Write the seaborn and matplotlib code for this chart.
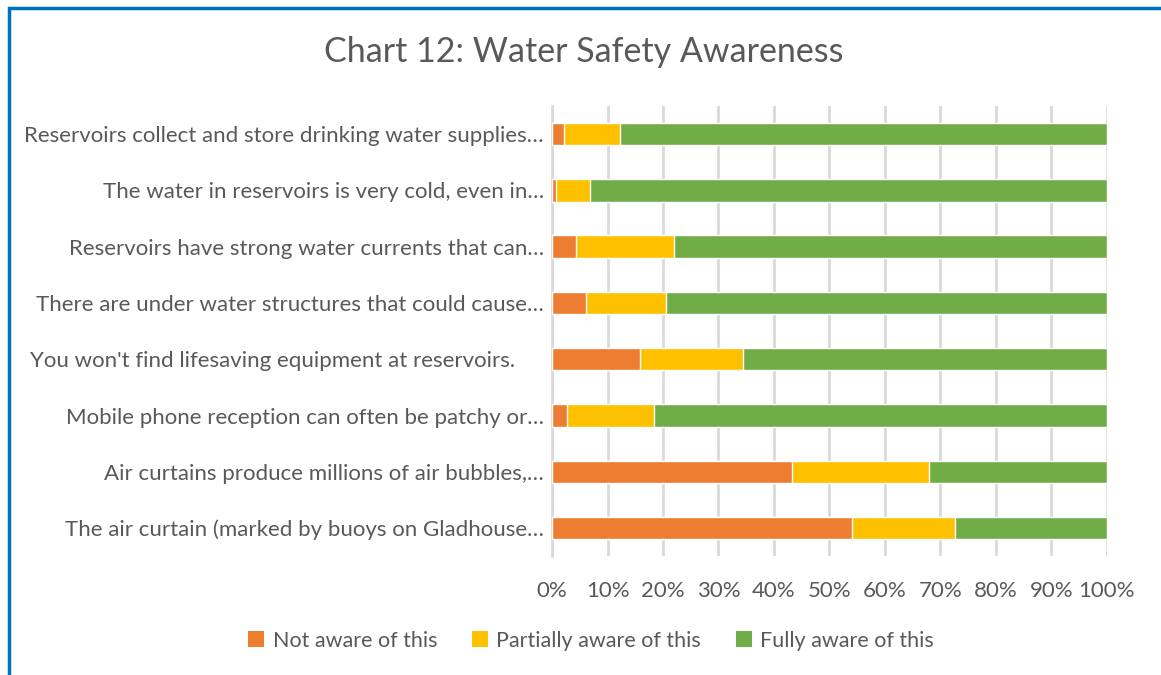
import matplotlib.pyplot as plt
import pandas as pd
import seaborn as sns
from matplotlib.patches import Patch, Rectangle

# Statements, top to bottom as they appear in the chart
statements = [
    "Reservoirs collect and store drinking water supplies…",
    "The water in reservoirs is very cold, even in…",
    "Reservoirs have strong water currents that can…",
    "There are under water structures that could cause…",
    "You won't find lifesaving equipment at reservoirs.     ",
    "Mobile phone reception can often be patchy or…",
    "Air curtains produce millions of air bubbles,…",
    "The air curtain (marked by buoys on Gladhouse…",
]
not_aware = [2.1, 0.8, 4.3, 6.2, 15.9, 2.7, 43.2, 54.1]
partially_aware = [10.2, 6.1, 17.6, 14.4, 18.6, 15.7, 24.7, 18.6]
fully_aware = [100 - a - b for a, b in zip(not_aware, partially_aware)]

series_names = ["Not aware of this", "Partially aware of this", "Fully aware of this"]
colors = ["#ED7D31", "#FFC000", "#70AD47"]
xticks = list(range(0, 101, 10))

TEXT = "#595959"

sns.set_theme(style="white")
plt.rcParams["font.family"] = ["Lato", "DejaVu Sans"]

df = pd.DataFrame({
    "statement": statements,
    "not_aware": not_aware,
    "partial": partially_aware,
    "full": fully_aware,
})
df["cum_partial"] = df["not_aware"] + df["partial"]
df["cum_full"] = df["cum_partial"] + df["full"]

fig = plt.figure(figsize=(11.61, 6.75), dpi=100)
ax = fig.add_axes([0.4755, 0.176, 0.4777, 0.667])

# stacked bars drawn back to front using cumulative totals
for col, color in [("cum_full", colors[2]), ("cum_partial", colors[1]), ("not_aware", colors[0])]:
    sns.barplot(data=df, x=col, y="statement", orient="h", color=color,
                width=0.4, saturation=1, ax=ax, zorder=3)

ax.set_xlim(0, 100)
ax.set_xticks(xticks)
ax.set_xticklabels([f"{t}%" for t in xticks])
ax.set_xlabel("")
ax.set_ylabel("")
ax.grid(axis="x", color="#D9D9D9", linewidth=2, zorder=0)
for s in ["top", "right", "bottom"]:
    ax.spines[s].set_visible(False)
ax.spines["left"].set_color("#D9D9D9")
ax.spines["left"].set_linewidth(2)
ax.tick_params(axis="both", length=0, labelsize=16, labelcolor=TEXT)
ax.tick_params(axis="x", pad=18)
ax.tick_params(axis="y", pad=6)

fig.text(0.503, 0.923, "Chart 12: Water Safety Awareness", ha="center", va="center",
         fontsize=24.5, color=TEXT)

handles = [Patch(facecolor=c, edgecolor="none") for c in colors]
fig.legend(handles, series_names, loc="center", bbox_to_anchor=(0.509, 0.051), ncol=3,
           frameon=False, fontsize=15.5, labelcolor=TEXT, handlelength=0.75,
           handleheight=0.75, handletextpad=0.4, columnspacing=1.6)

# blue chart frame (cropped at right and bottom in the original)
fig.patches.append(Rectangle((0.0075, -0.05), 1.1, 1.038, transform=fig.transFigure,
                             fill=False, edgecolor="#0070C0", linewidth=2.5))

fig.savefig("out.png", dpi=100)
